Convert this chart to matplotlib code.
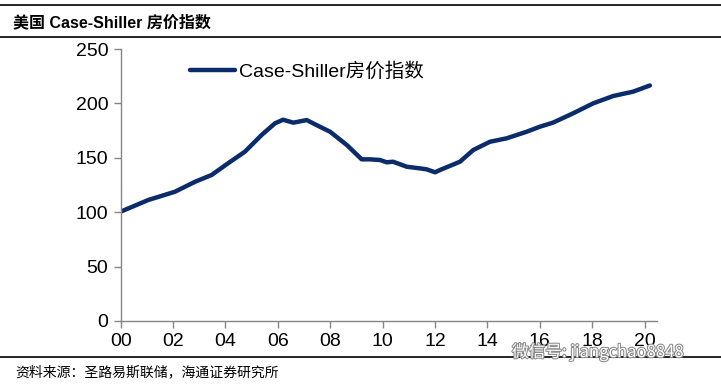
import matplotlib
matplotlib.use("Agg")
import matplotlib.pyplot as plt
import matplotlib.patheffects as pe
from matplotlib.lines import Line2D

# values (year, index level, Jan 2000 = 100)
years = [2000.0, 2001.05, 2002.07, 2002.84, 2003.47, 2004.1, 2004.74, 2005.38,
         2005.89, 2006.2, 2006.59, 2007.1, 2007.6, 2007.99, 2008.63, 2009.2,
         2009.52, 2009.9, 2010.15, 2010.4, 2010.92, 2011.42, 2011.68, 2012.0,
         2012.19, 2012.95, 2013.46, 2014.1, 2014.73, 2015.5, 2016.0, 2016.5,
         2017.27, 2018.04, 2018.8, 2019.56, 2020.2]
index = [100.5, 111.2, 118.8, 128.0, 134.2, 145.0, 155.6, 171.0,
         181.7, 185.0, 182.3, 184.7, 178.6, 174.0, 161.8, 148.6,
         148.6, 148.0, 145.9, 146.4, 141.8, 140.3, 139.4, 136.7,
         138.8, 146.4, 157.2, 164.8, 167.9, 174.0, 178.6, 182.3,
         190.9, 200.1, 206.8, 210.8, 216.5]

tick_years = list(range(2000, 2021, 2))
tick_labels = ["00", "02", "04", "06", "08", "10", "12", "14", "16", "18", "20"]

title = "美国 Case-Shiller 房价指数"
series_name = "Case-Shiller房价指数"
source = "资料来源：圣路易斯联储，海通证券研究所"

cjk = ["Liberation Sans", "Noto Sans CJK SC", "DejaVu Sans"]
plt.rcParams["font.family"] = cjk

fig = plt.figure(figsize=(7.21, 3.86), dpi=100)
ax = fig.add_axes([0.1674, 0.1684, 0.7434, 0.7046])

navy = "#0b2c6b"
ax.plot(years, index, color=navy, lw=3.2, solid_capstyle="round",
        solid_joinstyle="round", label=series_name)

ax.set_xlim(2000, 2020.46)
ax.set_ylim(0, 250)
ax.set_xticks(tick_years)
ax.set_xticklabels(tick_labels)
ax.set_yticks(range(0, 251, 50))

for s in ["top", "right"]:
    ax.spines[s].set_visible(False)
for s in ["left", "bottom"]:
    ax.spines[s].set_color("#868686")
    ax.spines[s].set_linewidth(1.0)
ax.tick_params(axis="both", colors="#868686", length=5, width=1.0,
               labelsize=14, labelcolor="black", pad=4)

leg = ax.legend(loc="upper left", bbox_to_anchor=(0.115, 0.98), frameon=False,
                fontsize=14, handlelength=2.3, handletextpad=0.2,
                borderaxespad=0)

# header and footer rules
fig.add_artist(Line2D([0, 1], [1 - 5 / 386, 1 - 5 / 386], color="black", lw=1.2))
fig.add_artist(Line2D([0, 1], [1 - 37 / 386, 1 - 37 / 386], color="black", lw=1.2))
fig.add_artist(Line2D([0, 1], [1 - 357 / 386, 1 - 357 / 386], color="black", lw=1.2))

fig.text(13 / 721, 1 - 22 / 386, title, fontsize=11.5, fontweight="bold",
         va="center", ha="left")
fig.text(15 / 721, 1 - 372 / 386, source, fontsize=10, va="center", ha="left",
         family=["Noto Sans CJK SC", "DejaVu Sans"])

# watermark
fig.text(512 / 721, 1 - 352 / 386, "微信号: jiangchao8848", fontsize=12,
         color="white", va="center", ha="left",
         family=["Noto Sans CJK SC", "DejaVu Sans"],
         path_effects=[pe.withStroke(linewidth=1.5, foreground="#8a8a8a")])

fig.savefig("out.png", dpi=100)
